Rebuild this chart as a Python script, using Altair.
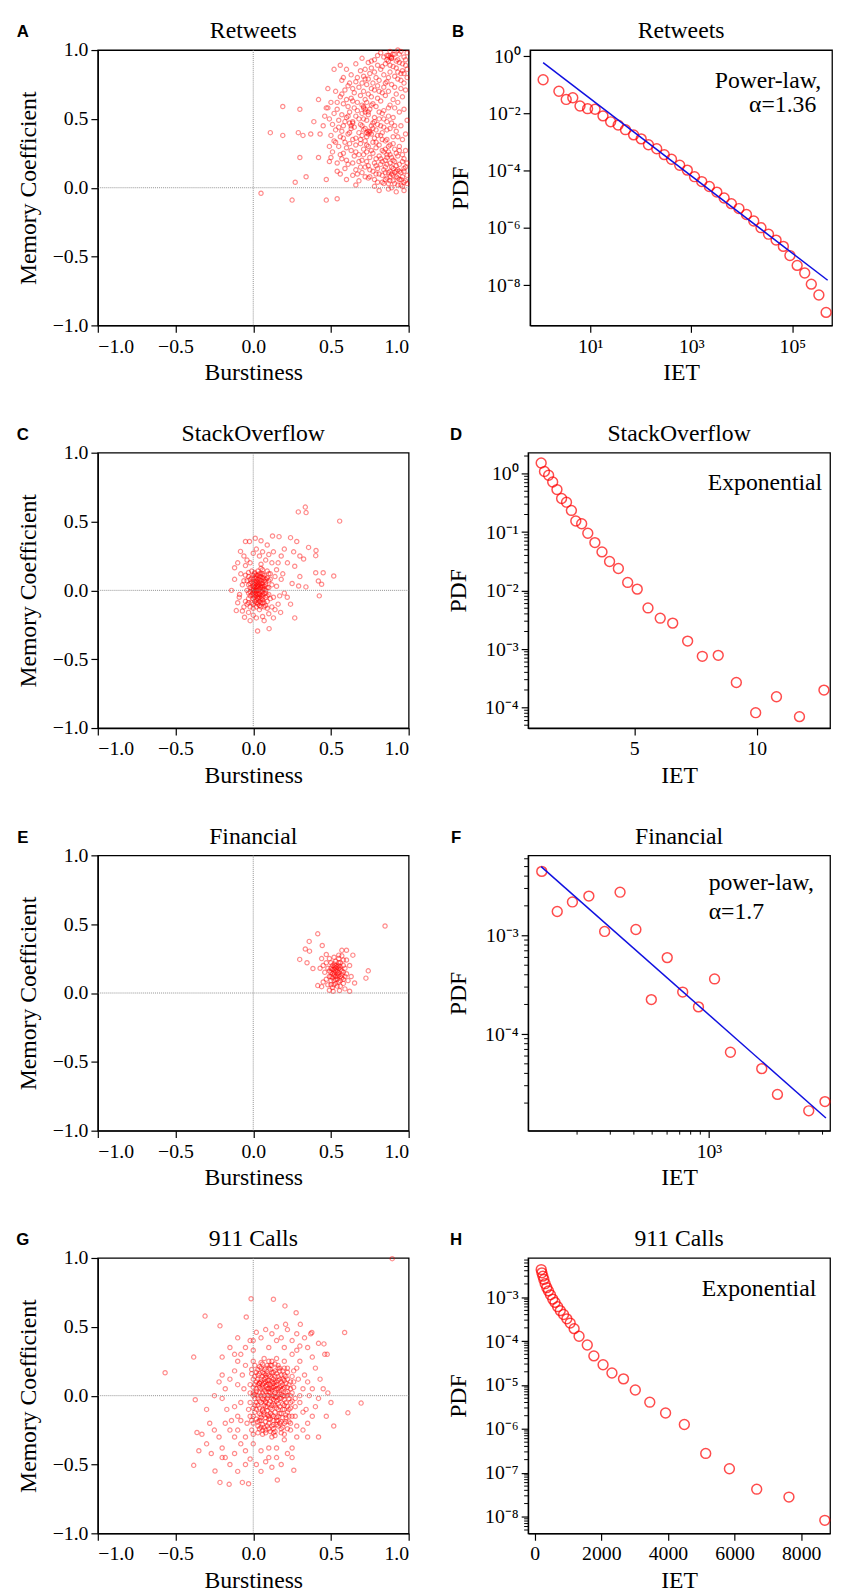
import altair as alt
import pandas as pd

SERIF = "Liberation Serif"
RED = "#ff0000"

# ---------------- scatter data (Burstiness, Memory Coefficient) ----------------
retweets_pts = [
    (0.11, 0.40), (0.19, 0.59), (0.19, 0.38), (0.30, 0.57), (0.29, 0.40), (0.32, 0.38), (0.37, 0.39),
    (0.30, 0.22), (0.42, 0.22), (0.34, 0.08), (0.27, 0.04), (0.05, -0.04), (0.25, -0.09), (0.47, -0.09),
    (0.54, -0.08), (0.42, 0.64), (0.39, 0.48), (0.43, 0.39), (0.52, 0.86), (0.56, 0.89), (0.48, 0.72),
    (0.47, 0.58), (0.49, 0.30), (0.49, 0.19), (0.47, 0.06), (0.45, 0.45), (0.46, 0.52),
    (0.82, 0.98), (0.88, 0.99), (0.91, 0.97), (0.95, 0.99), (0.99, 0.98), (0.86, 0.96), (0.89, 0.95), (0.93, 1.0),
    (0.70, 0.94), (0.78, 0.93), (0.84, 0.95), (0.87, 0.92), (0.89, 0.94), (0.93, 0.93), (0.97, 0.95),
    (0.66, 0.90), (0.74, 0.91), (0.80, 0.89), (0.85, 0.90), (0.90, 0.88), (0.94, 0.91), (0.98, 0.89),
    (0.60, 0.86), (0.69, 0.85), (0.76, 0.87), (0.82, 0.86), (0.88, 0.84), (0.92, 0.87), (0.96, 0.85),
    (0.63, 0.82), (0.71, 0.81), (0.75, 0.83), (0.79, 0.80), (0.84, 0.82), (0.91, 0.81), (0.95, 0.83), (0.99, 0.80),
    (0.57, 0.78), (0.66, 0.77), (0.72, 0.79), (0.77, 0.76), (0.81, 0.78), (0.86, 0.77), (0.93, 0.79), (0.97, 0.76),
    (0.61, 0.74), (0.68, 0.73), (0.73, 0.75), (0.76, 0.72), (0.80, 0.74), (0.84, 0.73), (0.89, 0.75), (0.95, 0.72),
    (0.53, 0.70), (0.59, 0.71), (0.65, 0.69), (0.71, 0.70), (0.74, 0.68), (0.78, 0.71), (0.83, 0.69), (0.87, 0.70),
    (0.92, 0.68), (0.98, 0.71),
    (0.56, 0.66), (0.63, 0.65), (0.69, 0.67), (0.72, 0.64), (0.76, 0.66), (0.80, 0.65), (0.85, 0.67), (0.90, 0.64), (0.96, 0.66),
    (0.50, 0.62), (0.58, 0.61), (0.64, 0.63), (0.70, 0.60), (0.73, 0.62), (0.77, 0.61), (0.82, 0.63), (0.88, 0.60), (0.93, 0.62),
    (0.48, 0.58), (0.54, 0.57), (0.61, 0.59), (0.67, 0.56), (0.71, 0.58), (0.72, 0.55), (0.75, 0.57), (0.79, 0.59),
    (0.84, 0.56), (0.91, 0.58), (0.97, 0.57),
    (0.52, 0.54), (0.57, 0.53), (0.62, 0.55), (0.66, 0.52), (0.70, 0.54), (0.74, 0.53), (0.78, 0.51), (0.83, 0.54),
    (0.87, 0.52), (0.94, 0.55),
    (0.49, 0.50), (0.55, 0.49), (0.60, 0.51), (0.64, 0.48), (0.68, 0.50), (0.73, 0.49), (0.77, 0.47), (0.81, 0.50),
    (0.86, 0.48), (0.90, 0.51), (0.99, 0.49),
    (0.51, 0.46), (0.58, 0.45), (0.62, 0.47), (0.65, 0.44), (0.69, 0.46), (0.72, 0.43), (0.76, 0.45), (0.80, 0.46),
    (0.84, 0.44), (0.89, 0.47), (0.95, 0.45),
    (0.53, 0.42), (0.57, 0.41), (0.63, 0.43), (0.68, 0.40), (0.71, 0.42), (0.74, 0.41), (0.76, 0.39), (0.79, 0.42),
    (0.83, 0.40), (0.88, 0.43), (0.92, 0.41),
    (0.50, 0.38), (0.56, 0.37), (0.61, 0.39), (0.66, 0.36), (0.70, 0.38), (0.73, 0.37), (0.75, 0.40), (0.78, 0.36),
    (0.82, 0.38), (0.86, 0.35), (0.93, 0.37), (0.98, 0.39),
    (0.52, 0.34), (0.59, 0.33), (0.64, 0.35), (0.69, 0.32), (0.72, 0.34), (0.77, 0.33), (0.81, 0.31), (0.85, 0.34),
    (0.90, 0.32), (0.96, 0.35),
    (0.55, 0.30), (0.60, 0.29), (0.66, 0.31), (0.71, 0.28), (0.74, 0.30), (0.79, 0.29), (0.83, 0.27), (0.87, 0.30), (0.91, 0.28),
    (0.51, 0.26), (0.58, 0.25), (0.63, 0.27), (0.68, 0.24), (0.73, 0.26), (0.77, 0.25), (0.81, 0.23), (0.84, 0.26),
    (0.88, 0.24), (0.94, 0.27),
    (0.50, 0.22), (0.57, 0.21), (0.65, 0.23), (0.70, 0.20), (0.75, 0.22), (0.79, 0.21), (0.83, 0.19), (0.86, 0.22),
    (0.90, 0.20), (0.93, 0.23), (0.97, 0.21),
    (0.54, 0.18), (0.61, 0.17), (0.68, 0.19), (0.74, 0.16), (0.78, 0.18), (0.82, 0.17), (0.85, 0.15), (0.88, 0.18),
    (0.92, 0.16), (0.96, 0.19),
    (0.59, 0.14), (0.66, 0.13), (0.72, 0.15), (0.77, 0.12), (0.80, 0.14), (0.84, 0.13), (0.87, 0.11), (0.90, 0.14),
    (0.94, 0.12), (0.98, 0.15),
    (0.56, 0.10), (0.64, 0.09), (0.70, 0.11), (0.75, 0.08), (0.79, 0.10), (0.83, 0.09), (0.86, 0.07), (0.89, 0.10),
    (0.92, 0.08), (0.95, 0.11), (0.99, 0.09),
    (0.60, 0.06), (0.68, 0.05), (0.74, 0.07), (0.80, 0.04), (0.85, 0.06), (0.88, 0.05), (0.91, 0.03), (0.94, 0.06), (0.97, 0.04),
    (0.66, 0.02), (0.78, 0.01), (0.84, 0.03), (0.89, 0.00), (0.93, 0.02), (0.96, 0.01), (0.99, 0.03),
    (0.81, -0.02), (0.87, -0.01), (0.92, -0.03), (0.97, -0.02),
    (0.73, 0.40), (0.75, 0.41), (0.74, 0.39), (0.72, 0.57), (0.71, 0.59), (0.88, 0.95), (0.89, 0.94), (0.87, 0.96),
    (0.90, 0.09), (0.91, 0.11), (0.88, 0.12), (0.86, 0.24), (0.87, 0.26), (0.85, 0.20), (0.64, 0.47), (0.63, 0.45),
    (0.62, 0.40), (0.65, 0.58), (0.67, 0.62), (0.69, 0.35), (0.70, 0.45), (0.71, 0.50), (0.73, 0.31), (0.74, 0.55),
    (0.76, 0.60), (0.77, 0.43), (0.78, 0.48), (0.79, 0.33), (0.80, 0.38), (0.81, 0.55), (0.82, 0.45), (0.83, 0.35),
    (0.84, 0.50), (0.85, 0.28), (0.86, 0.42), (0.87, 0.58), (0.88, 0.31), (0.89, 0.22), (0.90, 0.37), (0.91, 0.45),
    (0.92, 0.25), (0.93, 0.13), (0.94, 0.30), (0.95, 0.06), (0.96, 0.24), (0.97, 0.12), (0.98, 0.27), (0.99, 0.18),
    (0.60, 0.20), (0.62, 0.32), (0.64, 0.18), (0.66, 0.26), (0.67, 0.10), (0.69, 0.15), (0.71, 0.24), (0.72, 0.08),
    (0.73, 0.19), (0.75, 0.13), (0.76, 0.27), (0.78, 0.06), (0.79, 0.16), (0.81, 0.10), (0.82, 0.21), (0.83, 0.04),
    (0.85, 0.11), (0.86, 0.17), (0.87, 0.03), (0.88, 0.08), (0.89, 0.15), (0.90, 0.05), (0.91, 0.19), (0.92, 0.12),
    (0.93, 0.07), (0.94, 0.17), (0.95, 0.02), (0.96, 0.08), (0.97, 0.14), (0.98, 0.05),
    (0.64, 0.72), (0.67, 0.80), (0.70, 0.76), (0.72, 0.86), (0.74, 0.79), (0.76, 0.92), (0.78, 0.84), (0.80, 0.96),
    (0.81, 0.70), (0.83, 0.88), (0.85, 0.76), (0.86, 0.93), (0.87, 0.80), (0.88, 0.89), (0.90, 0.97), (0.91, 0.73),
    (0.92, 0.92), (0.93, 0.84), (0.94, 0.97), (0.95, 0.78), (0.96, 0.90), (0.97, 0.83), (0.98, 0.93), (0.99, 0.86),
    (0.55, 0.44), (0.58, 0.36), (0.59, 0.48), (0.61, 0.52), (0.54, 0.62), (0.57, 0.68), (0.60, 0.64), (0.62, 0.76),
    (0.58, 0.80), (0.53, 0.33), (0.56, 0.24), (0.54, 0.12),
]

stack_pts = [
    (0.335, 0.605), (0.29, 0.57), (0.34, 0.565), (0.556, 0.503), (-0.05, 0.355), (0.013, 0.379), (0.124, 0.395),
    (0.166, 0.39), (0.24, 0.383), (0.28, 0.355), (0.356, 0.312), (0.404, 0.29), (0.402, 0.252), (0.324, 0.228),
    (0.267, 0.175), (0.402, 0.128), (0.45, 0.128), (0.518, 0.104), (0.419, 0.068), (0.44, 0.044), (0.425, -0.04),
    (0.339, 0.025), (0.292, 0.032), (0.267, -0.2), (0.028, -0.295), (0.102, -0.278), (0.24, -0.10), (0.219, -0.05),
    (0.176, -0.16), (-0.056, -0.195), (-0.109, -0.147), (-0.14, 0.0), (-0.088, -0.03), (-0.12, 0.164), (-0.082, 0.283),
    (-0.024, 0.355), (0.05, 0.36), (0.09, 0.33), (0.20, 0.30), (0.18, 0.25), (0.22, 0.20), (0.26, 0.28), (0.30, 0.10),
    (0.25, 0.05), (0.20, -0.02), (0.16, -0.10), (0.13, -0.20), (0.07, -0.22), (-0.02, -0.22), (-0.10, -0.09),
    (-0.12, 0.08), (-0.10, 0.20), (-0.06, 0.25), (0.15, 0.15), (0.18, 0.08), (0.30, 0.25),
    (-0.08, 0.12), (-0.07, 0.04), (-0.09, -0.05), (-0.06, -0.12), (-0.05, 0.18), (-0.04, 0.22), (-0.03, -0.16),
    (0.0, 0.27), (0.02, 0.30), (0.04, 0.25), (0.06, 0.28), (0.08, 0.22), (0.10, 0.26), (0.12, 0.20), (0.14, 0.10),
    (0.15, 0.03), (0.13, -0.05), (0.12, -0.12), (0.10, -0.17), (0.06, -0.19), (0.02, -0.20), (0.0, -0.18),
    (-0.02, 0.20), (0.13, 0.28), (0.16, 0.20), (0.17, -0.04), (0.11, 0.12), (-0.07, -0.15), (0.09, -0.13),
    (0.14, -0.14), (0.19, 0.12), (0.05, 0.19), (0.10, 0.07), (-0.06, 0.07), (-0.05, -0.08),
    (0.0, 0.0), (0.02, 0.01), (0.04, -0.02), (0.01, 0.04), (-0.01, -0.03), (0.03, 0.06), (0.05, 0.03), (0.06, -0.05),
    (0.02, -0.07), (-0.02, 0.05), (0.0, 0.08), (0.04, 0.10), (0.07, 0.07), (0.08, 0.0), (0.03, -0.10), (0.0, -0.10),
    (-0.03, -0.06), (-0.03, 0.10), (0.01, 0.12), (0.06, 0.12), (0.09, 0.09), (0.09, -0.08), (0.05, -0.12),
    (-0.01, 0.14), (0.02, -0.04), (0.04, 0.04), (0.06, 0.01), (0.01, -0.01), (-0.02, 0.02), (0.03, 0.02),
    (0.05, 0.07), (0.07, -0.02), (0.03, -0.06), (0.0, 0.05), (-0.01, 0.09), (0.02, 0.09), (0.08, 0.04),
    (0.07, -0.09), (0.04, -0.08), (0.01, -0.08), (-0.04, 0.0), (-0.04, -0.10), (0.06, 0.15), (0.03, 0.14),
    (0.10, 0.02), (0.10, -0.03), (0.08, -0.11), (0.02, -0.12), (-0.02, -0.12), (0.05, -0.01), (0.04, 0.01),
    (0.02, 0.03), (0.01, 0.06), (0.03, 0.08), (0.06, 0.05), (0.05, -0.04), (0.03, -0.03), (0.01, -0.05),
    (0.0, -0.02), (-0.02, -0.01), (0.02, 0.0), (0.04, -0.05), (0.06, -0.07), (0.0, 0.11), (0.05, 0.10),
    (0.07, 0.11), (-0.03, 0.13), (0.09, 0.14), (0.08, 0.06), (0.11, 0.08),
    (0.01, 0.02), (0.03, 0.0), (0.05, 0.02), (0.02, -0.02), (0.04, -0.03), (0.0, 0.03), (-0.01, 0.01), (0.06, 0.03),
    (0.07, 0.01), (0.03, 0.04), (0.01, -0.03), (0.05, -0.06), (0.02, 0.07), (0.04, 0.06), (-0.02, -0.04),
    (0.0, -0.06), (0.06, -0.03), (0.08, -0.05), (0.04, 0.12), (0.02, 0.11), (-0.03, 0.04), (0.07, 0.09),
    (0.09, 0.02), (0.03, -0.09), (0.05, -0.09), (-0.01, -0.09), (0.01, 0.09), (0.06, 0.09), (0.08, -0.02),
    (-0.04, 0.07), (0.03, 0.11), (0.07, -0.12), (0.0, -0.13), (0.04, -0.14), (-0.03, -0.09), (0.10, 0.12),
    (0.11, -0.06), (0.12, 0.04), (-0.05, 0.11), (0.05, 0.16),
    (0.0, 0.01), (0.02, 0.05), (0.04, 0.08), (0.06, -0.01), (0.03, -0.05), (0.01, 0.0), (0.05, 0.05), (-0.01, 0.06),
    (0.02, -0.09), (0.07, 0.03), (0.05, 0.12), (0.0, -0.04), (0.08, 0.08), (0.03, 0.03), (0.04, -0.11),
    (-0.02, 0.08), (0.06, -0.09), (0.01, 0.13), (-0.03, -0.02), (0.09, -0.04),
]

financial_pts = [
    (0.848, 0.487), (0.415, 0.43), (0.36, 0.375), (0.335, 0.32), (0.362, 0.304), (0.444, 0.345), (0.299, 0.244),
    (0.346, 0.22), (0.384, 0.178), (0.641, 0.275), (0.74, 0.161), (0.725, 0.108), (0.652, 0.073), (0.62, 0.013),
    (0.44, 0.046), (0.415, 0.054), (0.60, 0.311), (0.57, 0.31), (0.55, 0.275), (0.555, 0.018), (0.514, 0.013),
    (0.43, 0.18), (0.44, 0.25), (0.47, 0.28), (0.63, 0.12), (0.62, 0.20), (0.45, 0.08), (0.49, 0.02), (0.59, 0.03),
    (0.50, 0.15), (0.52, 0.17), (0.54, 0.14), (0.53, 0.12), (0.55, 0.18), (0.51, 0.20), (0.56, 0.12), (0.49, 0.12),
    (0.52, 0.09), (0.55, 0.08), (0.57, 0.16), (0.58, 0.20), (0.50, 0.22), (0.53, 0.23), (0.56, 0.22), (0.48, 0.18),
    (0.47, 0.10), (0.50, 0.06), (0.54, 0.05), (0.58, 0.10), (0.60, 0.14), (0.59, 0.18), (0.52, 0.26), (0.55, 0.25),
    (0.48, 0.06), (0.51, 0.11), (0.53, 0.16), (0.54, 0.19), (0.52, 0.13), (0.55, 0.15), (0.57, 0.13), (0.50, 0.18),
    (0.46, 0.15), (0.47, 0.22), (0.61, 0.09), (0.56, 0.05), (0.58, 0.24), (0.49, 0.25), (0.53, 0.07), (0.51, 0.04),
    (0.57, 0.27), (0.60, 0.24), (0.45, 0.20), (0.54, 0.10), (0.52, 0.19), (0.56, 0.17), (0.50, 0.09), (0.58, 0.07),
    (0.52, 0.15), (0.54, 0.16), (0.53, 0.18), (0.51, 0.14), (0.55, 0.13), (0.56, 0.19), (0.52, 0.21), (0.54, 0.12),
    (0.57, 0.11), (0.50, 0.12), (0.53, 0.20), (0.55, 0.20), (0.58, 0.15), (0.51, 0.17), (0.49, 0.16), (0.56, 0.09),
    (0.53, 0.10), (0.52, 0.06), (0.55, 0.22), (0.59, 0.12),
]

calls_pts = [
    (-0.014, 0.704), (0.13, 0.70), (-0.31, 0.578), (-0.045, 0.571), (0.204, 0.652), (0.276, 0.602), (-0.214, 0.507),
    (0.588, 0.459), (-0.383, 0.28), (-0.567, 0.166), (-0.373, -0.03), (0.694, -0.054), (0.609, -0.125), (0.518, -0.22),
    (-0.362, -0.268), (-0.383, -0.506), (-0.214, -0.63), (-0.155, -0.644), (-0.07, -0.63), (-0.03, -0.64),
    (0.155, -0.613), (0.261, -0.542), (-0.246, -0.547), (0.476, 0.30), (0.455, 0.376), (0.377, 0.459), (0.303, 0.518),
    (0.208, 0.518), (0.894, 0.995),
    (-0.28, -0.20), (-0.25, -0.25), (-0.30, -0.35), (-0.27, -0.42), (-0.22, -0.30), (-0.20, -0.38), (-0.18, -0.45),
    (-0.15, -0.50), (-0.12, -0.42), (-0.10, -0.55), (-0.05, -0.50), (-0.02, -0.46), (0.02, -0.50), (0.05, -0.55),
    (0.08, -0.48), (0.12, -0.52), (0.15, -0.45), (0.18, -0.50), (0.22, -0.42), (0.25, -0.38), (0.28, -0.30),
    (0.32, -0.25), (0.35, -0.20), (0.38, -0.15), (0.40, -0.08), (0.42, -0.02), (0.45, 0.05), (0.43, 0.12),
    (0.40, 0.20), (0.38, 0.28), (0.35, 0.35), (0.33, 0.42), (0.30, 0.36), (0.28, 0.45), (0.25, 0.40), (0.22, 0.48),
    (0.18, 0.42), (0.15, 0.50), (0.12, 0.45), (0.08, 0.48), (0.05, 0.42), (0.02, 0.46), (-0.02, 0.40), (-0.05, 0.35),
    (-0.08, 0.30), (-0.10, 0.25), (-0.12, 0.18), (-0.15, 0.12), (-0.18, 0.05), (-0.20, -0.02), (-0.17, -0.10),
    (-0.14, -0.18), (-0.10, -0.25), (-0.08, -0.35), (-0.05, -0.30), (0.30, -0.05), (0.32, 0.05), (0.33, 0.15),
    (0.30, 0.25), (0.27, -0.15), (0.24, -0.25), (0.20, -0.32), (0.10, -0.38), (0.0, -0.35), (-0.12, -0.30),
    (-0.07, 0.15), (-0.10, 0.08), (-0.12, -0.08), (-0.08, -0.18), (0.29, 0.12), (0.36, 0.0), (0.34, -0.10),
    (-0.22, 0.10), (-0.25, 0.0), (0.50, -0.05), (0.48, 0.02), (0.47, -0.15), (0.42, -0.30), (0.37, 0.45),
    (0.42, 0.38), (0.46, 0.30), (-0.30, -0.10), (-0.33, -0.28), (-0.35, -0.40), (-0.20, 0.28), (-0.15, 0.35),
    (-0.10, 0.42), (0.20, 0.35), (0.10, 0.35), (0.0, 0.33), (0.05, -0.40), (0.15, -0.38), (0.25, 0.30),
    (0.35, -0.30), (-0.18, -0.20), (-0.05, -0.40),
    (-0.06, 0.05), (-0.08, -0.05), (-0.10, -0.15), (-0.05, 0.22), (-0.04, -0.20), (0.28, 0.20), (0.30, 0.0),
    (0.32, -0.12), (0.28, -0.22), (-0.15, -0.25), (-0.20, 0.15), (0.35, 0.10), (0.38, 0.05), (-0.12, 0.30),
    (0.0, 0.40), (0.15, 0.40), (0.28, 0.33), (-0.20, -0.45), (0.10, -0.45), (0.25, -0.45),
    (0.0, 0.0), (0.05, 0.05), (0.10, 0.0), (0.15, 0.05), (0.20, 0.0), (0.25, 0.02), (0.08, 0.10), (0.13, 0.12),
    (0.18, 0.10), (0.22, 0.12), (0.03, 0.15), (0.08, 0.20), (0.12, 0.22), (0.17, 0.18), (0.20, 0.20), (0.05, -0.05),
    (0.10, -0.06), (0.15, -0.04), (0.20, -0.07), (0.24, -0.05), (0.02, -0.10), (0.07, -0.12), (0.12, -0.10),
    (0.17, -0.13), (0.22, -0.12), (0.0, -0.15), (0.05, -0.18), (0.10, -0.20), (0.15, -0.18), (0.20, -0.20),
    (0.03, -0.22), (0.08, -0.25), (0.13, -0.27), (0.18, -0.24), (-0.02, 0.08), (0.0, 0.12), (-0.02, -0.05),
    (0.04, 0.02), (0.07, 0.04), (0.12, 0.04), (0.17, 0.02), (0.22, 0.06), (0.09, -0.02), (0.14, -0.01),
    (0.06, 0.08), (0.11, 0.08), (0.16, 0.14), (0.10, 0.15), (0.05, 0.12), (0.14, 0.18), (0.07, 0.16), (0.02, 0.05),
    (0.19, 0.05), (0.23, -0.10), (0.19, -0.16), (0.13, -0.15), (0.08, -0.16), (0.04, -0.13), (0.0, -0.20),
    (0.10, -0.24), (0.16, -0.22), (0.06, -0.21), (0.11, -0.13), (0.15, -0.09), (0.09, -0.08), (0.03, -0.07),
    (0.12, 0.0), (0.07, 0.0), (0.18, -0.02), (0.10, 0.11), (0.15, 0.10), (0.13, 0.06), (0.04, 0.09), (0.20, 0.15),
    (0.24, 0.10), (0.25, -0.15), (0.01, 0.22), (0.05, 0.24), (0.10, 0.25), (-0.01, -0.25), (0.03, -0.27),
    (0.12, -0.30), (0.20, -0.28), (0.26, 0.18), (0.27, -0.08), (0.09, 0.05), (0.14, 0.02), (0.11, -0.04),
    (0.06, -0.10), (0.16, -0.06), (0.08, 0.13), (0.12, 0.17),
    (0.01, 0.01), (0.03, -0.02), (0.06, 0.02), (0.08, -0.04), (0.11, 0.02), (0.13, -0.03), (0.16, 0.01), (0.18, 0.04),
    (0.21, 0.02), (0.23, -0.02), (0.02, 0.10), (0.04, 0.06), (0.07, 0.12), (0.09, 0.08), (0.12, 0.10), (0.14, 0.07),
    (0.17, 0.12), (0.19, 0.08), (0.21, 0.09), (0.24, 0.05), (0.01, -0.07), (0.04, -0.09), (0.07, -0.07),
    (0.09, -0.11), (0.12, -0.07), (0.14, -0.12), (0.17, -0.08), (0.19, -0.10), (0.21, -0.05), (0.24, -0.09),
    (0.02, -0.17), (0.05, -0.14), (0.08, -0.19), (0.11, -0.17), (0.13, -0.21), (0.16, -0.15), (0.18, -0.19),
    (0.21, -0.16), (0.23, -0.19), (0.03, 0.19), (0.06, 0.17), (0.09, 0.22), (0.11, 0.19), (0.14, 0.23),
    (0.16, 0.20), (0.18, 0.15), (0.22, 0.17), (0.25, 0.14), (-0.02, 0.02), (-0.03, -0.10), (-0.01, 0.16),
    (0.0, -0.28), (0.06, -0.28), (0.14, -0.26), (0.22, -0.24), (0.26, 0.06), (0.27, -0.02), (0.0, 0.25),
    (0.07, 0.27), (0.15, 0.27), (0.20, 0.25), (0.10, 0.05), (0.05, 0.0), (0.15, -0.01), (0.12, 0.13), (0.08, 0.03),
    (0.17, 0.06), (0.10, -0.15), (0.05, -0.23), (0.13, -0.18),
    (0.02, 0.03), (0.04, -0.04), (0.06, 0.06), (0.08, -0.08), (0.10, 0.09), (0.12, -0.02), (0.14, 0.04),
    (0.16, -0.10), (0.18, 0.07), (0.20, -0.03), (0.22, 0.03), (0.0, 0.06), (0.01, -0.12), (0.03, 0.12),
    (0.05, -0.16), (0.07, 0.19), (0.09, -0.22), (0.11, 0.14), (0.13, -0.24), (0.15, 0.16), (0.17, -0.20),
    (0.19, 0.18), (0.21, -0.14), (0.23, 0.08), (0.25, -0.04), (-0.01, 0.19), (-0.02, -0.15), (0.04, 0.21),
    (0.06, -0.25), (0.10, 0.20), (0.12, -0.22), (0.16, 0.22), (0.18, -0.27), (0.22, 0.20), (0.24, -0.20),
    (0.08, 0.07), (0.13, 0.09), (0.11, -0.09), (0.06, -0.02), (0.16, -0.03), (0.19, 0.0), (0.14, 0.14),
    (0.09, 0.16), (0.04, -0.18), (0.20, 0.11), (0.07, -0.14), (0.15, -0.16), (0.03, 0.08), (0.01, -0.02),
    (0.26, 0.10),
    (0.0, 0.02), (0.02, -0.05), (0.04, 0.09), (0.06, -0.11), (0.08, 0.15), (0.10, -0.17), (0.12, 0.06),
    (0.14, -0.07), (0.16, 0.11), (0.18, -0.13), (0.20, 0.06), (0.22, -0.08), (0.01, 0.14), (0.03, -0.19),
    (0.05, 0.20), (0.07, -0.23), (0.09, 0.11), (0.11, -0.26), (0.13, 0.17), (0.15, -0.21), (0.17, 0.20),
    (0.19, -0.23), (0.21, 0.14), (0.23, -0.15), (0.0, -0.09), (0.02, 0.17), (0.04, -0.24), (0.06, 0.23),
    (0.08, -0.05), (0.10, 0.03), (0.12, -0.14), (0.14, 0.10), (0.16, -0.18), (0.18, 0.01), (0.20, -0.10),
    (0.22, 0.0), (0.03, 0.0), (0.05, 0.10), (0.07, -0.03), (0.09, -0.14), (0.11, 0.05), (0.13, -0.06),
    (0.15, 0.08), (0.17, -0.02), (0.19, 0.12), (0.21, -0.19), (0.01, 0.08), (0.06, 0.14), (0.11, 0.22),
    (0.16, 0.05), (0.08, -0.27), (0.14, -0.29), (0.19, -0.06), (0.04, 0.16), (0.12, 0.25), (-0.01, -0.18),
    (0.24, 0.0), (0.09, 0.0), (0.13, 0.0), (0.07, 0.09),
]

# ---------------- IET distributions ----------------
ret_iet = [1.17, 2.40, 3.35, 4.52, 6.28, 8.87, 12.5, 17.9, 25.4, 35.7, 49.8, 72.3, 102, 142, 207, 292, 406, 590,
           834, 1159, 1611, 2275, 3206, 4467, 6209, 8770, 12360, 17220, 23930, 33810, 47640, 66370, 89540,
           124500, 175800, 237100, 335000, 465600]
ret_pdf = [0.152, 0.0603, 0.0311, 0.0356, 0.0183, 0.0148, 0.0141, 0.00828, 0.00514, 0.00395, 0.00273, 0.00179,
           0.00130, 8.07e-4, 5.87e-4, 3.65e-4, 2.52e-4, 1.56e-4, 1.05e-4, 6.19e-5, 4.17e-5, 2.80e-5, 1.79e-5,
           1.11e-5, 7.06e-6, 4.75e-6, 2.95e-6, 1.74e-6, 1.02e-6, 6.03e-7, 3.75e-7, 2.26e-7, 1.08e-7, 4.89e-8,
           2.65e-8, 1.08e-8, 4.51e-9, 1.11e-9]
ret_fit_iet = [1.17, 500000]
ret_fit_pdf = [0.60, 1.48e-8]

so_iet = [1.195, 1.33, 1.50, 1.665, 1.84, 2.03, 2.23, 2.43, 2.61, 2.85, 3.10, 3.39, 3.68, 3.99, 4.35, 4.73,
          5.12, 5.56, 6.06, 6.57, 7.18, 7.78, 8.43, 9.17, 9.96, 10.81, 11.75, 12.75]
so_pdf = [1.52, 1.09, 0.94, 0.72, 0.534, 0.376, 0.325, 0.235, 0.155, 0.139, 0.0955, 0.0662, 0.0459, 0.0315,
          0.0239, 0.0138, 0.0106, 0.00506, 0.00338, 0.00278, 0.00137, 7.52e-4, 7.82e-4, 2.68e-4, 8.18e-5,
          1.53e-4, 7.0e-5, 1.99e-4]

fin_iet = [130, 157, 189, 231, 280, 338, 410, 495, 601, 726, 880, 1071, 1300, 1905, 2307, 3381, 4121]
fin_pdf = [4.47e-3, 1.75e-3, 2.19e-3, 2.51e-3, 1.10e-3, 2.75e-3, 1.15e-3, 2.24e-4, 5.97e-4, 2.67e-4, 1.89e-4,
           3.63e-4, 6.55e-5, 4.47e-5, 2.45e-5, 1.67e-5, 2.07e-5]
fin_fit_iet = [129, 4169]
fin_fit_pdf = [5.0e-3, 1.41e-5]

call_iet = [196, 216, 246, 276, 315, 364, 414, 473, 542, 611, 690, 769, 868, 966, 1066, 1184, 1332, 1579, 1777,
            2053, 2320, 2666, 3021, 3456, 3930, 4493, 5135, 5846, 6666, 7634, 8710]
call_pdf = [4.25e-3, 3.58e-3, 3.01e-3, 2.54e-3, 2.03e-3, 1.65e-3, 1.39e-3, 1.13e-3, 9.03e-4, 7.60e-4, 6.08e-4,
            4.94e-4, 4.03e-4, 3.21e-4, 2.57e-4, 1.92e-4, 1.29e-4, 8.13e-5, 4.60e-5, 2.89e-5, 1.88e-5, 1.38e-5,
            7.69e-6, 4.07e-6, 2.31e-6, 1.26e-6, 2.77e-7, 1.24e-7, 4.25e-8, 2.81e-8, 8.30e-9]

# ---------------- layout ----------------
W_L, W_R, H = 315, 306, 279

SUP = ("'10' + (datum.value < 1 ? '\u207b' : '') + "
       "substring('\u2070\u00b9\u00b2\u00b3\u2074\u2075\u2076\u2077\u2078\u2079', "
       "abs(round(log(datum.value) / LN10)), abs(round(log(datum.value) / LN10)) + 1)")


def minor_values(lo, hi, emin, emax):
    out = []
    for e in range(emin, emax + 1):
        for m in range(2, 10):
            v = m * 10.0 ** e
            if lo < v < hi:
                out.append(v)
    return out


def text_layer(txt, x, y, align="center", font=SERIF, size=24, weight="normal"):
    return alt.Chart(pd.DataFrame({"t": [txt]})).mark_text(
        font=font, fontSize=size, fontWeight=weight, align=align, baseline="middle", color="black"
    ).encode(text="t:N", x=alt.value(x), y=alt.value(y))


def heading(title, ch, width, dx):
    return [text_layer(title, width / 2, -19),
            text_layer(ch, dx, -18, font="Liberation Sans", size=17, weight="bold")]


def scatter_panel(pts, title, ch):
    df = pd.DataFrame(pts, columns=["b", "m"])
    sx = alt.Scale(domain=[-1, 1], nice=False, zero=False)
    sy = alt.Scale(domain=[-1, 1], nice=False, zero=False)
    ax = alt.Axis(values=[-1, -0.5, 0, 0.5, 1], format=".1f", title="Burstiness")
    ay = alt.Axis(values=[-1, -0.5, 0, 0.5, 1], format=".1f", title="Memory Coefficient")
    pts_layer = alt.Chart(df).mark_point(
        shape="circle", filled=False, size=19, strokeWidth=1.2, color=RED, opacity=0.45
    ).encode(x=alt.X("b:Q", scale=sx, axis=ax), y=alt.Y("m:Q", scale=sy, axis=ay))
    zero = pd.DataFrame({"b": [0.0], "m": [0.0]})
    vline = alt.Chart(zero).mark_rule(color="#777777", strokeWidth=0.8, strokeDash=[1, 1]).encode(
        x=alt.X("b:Q", scale=sx, axis=ax))
    hline = alt.Chart(zero).mark_rule(color="#777777", strokeWidth=0.8, strokeDash=[1, 1]).encode(
        y=alt.Y("m:Q", scale=sy, axis=ay))
    return alt.layer(pts_layer, vline, hline, *heading(title, ch, W_L, -76)).properties(width=W_L, height=H)


def pdf_panel(xs, ys, title, ch, sx, sy, ax, ay, fit=None, notes=(), minor_y=(), minor_x=()):
    df = pd.DataFrame({"iet": xs, "pdf": ys})
    layers = [alt.Chart(df).mark_point(
        shape="circle", filled=False, size=100, strokeWidth=1.5, color=RED, opacity=0.7
    ).encode(x=alt.X("iet:Q", scale=sx, axis=ax), y=alt.Y("pdf:Q", scale=sy, axis=ay))]
    if fit is not None:
        fdf = pd.DataFrame({"iet": fit[0], "pdf": fit[1]})
        layers.append(alt.Chart(fdf).mark_line(color="#1010e0", strokeWidth=1.5).encode(
            x=alt.X("iet:Q", scale=sx, axis=ax), y=alt.Y("pdf:Q", scale=sy, axis=ay)))
    if minor_y:
        mdf = pd.DataFrame({"pdf": list(minor_y)})
        layers.append(alt.Chart(mdf).mark_rule(color="black", strokeWidth=1).encode(
            y=alt.Y("pdf:Q", scale=sy, axis=ay), x=alt.value(-4), x2=alt.value(0)))
    if minor_x:
        mdf = pd.DataFrame({"iet": list(minor_x)})
        layers.append(alt.Chart(mdf).mark_rule(color="black", strokeWidth=1).encode(
            x=alt.X("iet:Q", scale=sx, axis=ax), y=alt.value(H), y2=alt.value(H + 4)))
    for n in notes:
        layers.append(text_layer(*n))
    layers += heading(title, ch, W_R, -73)
    return alt.layer(*layers).properties(width=W_R, height=H)


# B
b_sx = alt.Scale(type="log", domain=[0.645, 610000], nice=False)
b_sy = alt.Scale(type="log", domain=[3.9e-10, 1.66], nice=False)
b_ax = alt.Axis(values=[10, 1000, 100000], labelExpr=SUP, title="IET")
b_ay = alt.Axis(values=[1, 1e-2, 1e-4, 1e-6, 1e-8], labelExpr=SUP, title="PDF")
panel_b = pdf_panel(ret_iet, ret_pdf, "Retweets", "B", b_sx, b_sy, b_ax, b_ay,
                    fit=(ret_fit_iet, ret_fit_pdf),
                    notes=[("Power-law,", 295, 31, "right"), ("\u03b1=1.36", 290, 56, "right")])

# D
d_sx = alt.Scale(domain=[0.66, 13.0], nice=False, zero=False)
d_sy = alt.Scale(type="log", domain=[4.47e-5, 2.28], nice=False)
d_ax = alt.Axis(values=[5, 10], format="d", title="IET")
d_ay = alt.Axis(values=[1, 1e-1, 1e-2, 1e-3, 1e-4], labelExpr=SUP, title="PDF")
panel_d = pdf_panel(so_iet, so_pdf, "StackOverflow", "D", d_sx, d_sy, d_ax, d_ay,
                    notes=[("Exponential", 298, 31, "right")],
                    minor_y=minor_values(4.47e-5, 2.28, -5, 0))

# F
f_sx = alt.Scale(type="log", domain=[110, 4385], nice=False)
f_sy = alt.Scale(type="log", domain=[1.05e-5, 6.5e-3], nice=False)
f_ax = alt.Axis(values=[1000], labelExpr=SUP, title="IET")
f_ay = alt.Axis(values=[1e-3, 1e-4], labelExpr=SUP, title="PDF")
panel_f = pdf_panel(fin_iet, fin_pdf, "Financial", "F", f_sx, f_sy, f_ax, f_ay,
                    fit=(fin_fit_iet, fin_fit_pdf),
                    notes=[("power-law,", 183, 28, "left"), ("\u03b1=1.7", 183, 57, "left")],
                    minor_y=minor_values(1.05e-5, 6.5e-3, -5, -3),
                    minor_x=minor_values(110, 4385, 2, 3))

# H
h_sx = alt.Scale(domain=[-198, 8868], nice=False, zero=False)
h_sy = alt.Scale(type="log", domain=[4.2e-9, 7.8e-3], nice=False)
h_ax = alt.Axis(values=[0, 2000, 4000, 6000, 8000], format="d", title="IET")
h_ay = alt.Axis(values=[1e-3, 1e-4, 1e-5, 1e-6, 1e-7, 1e-8], labelExpr=SUP, title="PDF")
panel_h = pdf_panel(call_iet, call_pdf, "911 Calls", "H", h_sx, h_sy, h_ax, h_ay,
                    notes=[("Exponential", 292, 32, "right")],
                    minor_y=minor_values(4.2e-9, 7.8e-3, -9, -3))

panel_a = scatter_panel(retweets_pts, "Retweets", "A")
panel_c = scatter_panel(stack_pts, "StackOverflow", "C")
panel_e = scatter_panel(financial_pts, "Financial", "E")
panel_g = scatter_panel(calls_pts, "911 Calls", "G")

HS = 36
rows = [alt.hconcat(panel_a, panel_b, spacing=HS),
        alt.hconcat(panel_c, panel_d, spacing=HS),
        alt.hconcat(panel_e, panel_f, spacing=HS),
        alt.hconcat(panel_g, panel_h, spacing=HS)]

chart = alt.vconcat(*rows, spacing=36).properties(
    padding={"left": 7, "top": 0, "right": 0, "bottom": 0}
).configure_view(
    stroke="black", strokeWidth=1.3
).configure_axis(
    labelFont=SERIF, titleFont=SERIF, labelFontSize=20, titleFontSize=24, titleFontWeight="normal",
    labelColor="black", titleColor="black", domainColor="black", tickColor="black",
    tickSize=7, tickWidth=1.2, domainWidth=1.3, grid=False, labelPadding=3
).configure_axisY(
    minExtent=50, maxExtent=50, titlePadding=8
).configure_axisX(
    titlePadding=5, labelPadding=4
)

chart.save("out.html", embed_options={"renderer": "svg", "actions": False})
